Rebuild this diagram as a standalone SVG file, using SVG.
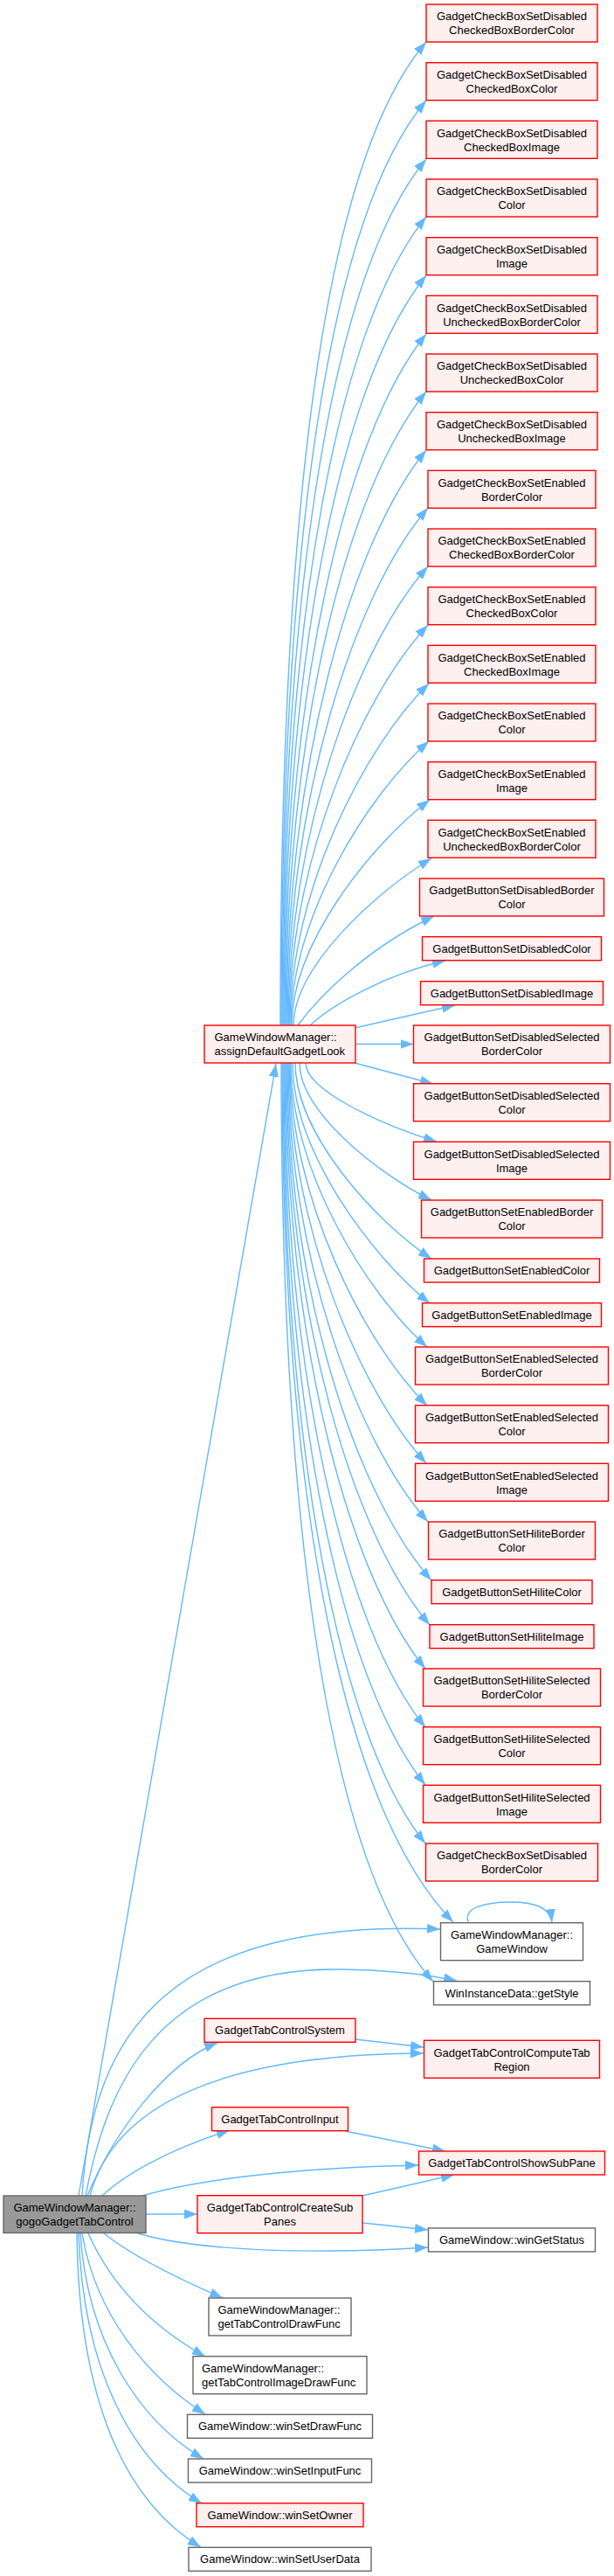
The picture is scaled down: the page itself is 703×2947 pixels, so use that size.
<svg xmlns="http://www.w3.org/2000/svg" width="703" height="2947" viewBox="0 0 703 2947">
<style>
.r{fill:#fff0f0;stroke:#ff0000;stroke-width:1.4}
.g{fill:#ffffff;stroke:#666666;stroke-width:1.4}
.s{fill:#999999;stroke:#666666;stroke-width:1.4}
text{font-family:"Liberation Sans",Arial,Helvetica,sans-serif;font-size:13px;fill:#000000;text-anchor:middle}
text.l{text-anchor:start}
.e path{fill:none;stroke:#63b8ff;stroke-width:1.4;marker-end:url(#a)}
</style>
<defs>
<marker id="a" markerUnits="userSpaceOnUse" markerWidth="15" markerHeight="11" viewBox="0 0 15 11" refX="15" refY="5.5" orient="auto"><path d="M0,0L15,5.5L0,11z" fill="#63b8ff"/></marker>
</defs>
<rect width="703" height="2947" fill="#ffffff"/>
<g id="edges" class="e">
<path d="M321,1173 C321,560 374,180 488,48"/>
<path d="M322,1173 C322,611 378,245 488,115"/>
<path d="M323,1173 C323,661 382,310 488,182"/>
<path d="M324,1173 C324,708 386,373 488,248"/>
<path d="M325,1173 C325,753 390,436 488,315"/>
<path d="M326,1173 C326,797 394,498 488,382"/>
<path d="M327,1173 C327,838 397,559 488,448"/>
<path d="M328,1173 C328,879 402,619 488,515"/>
<path d="M329,1173 C329,916 406,678 490,581"/>
<path d="M330,1173 C330,953 410,737 490,648"/>
<path d="M331,1173 C331,987 414,796 490,715"/>
<path d="M332,1173 C332,1020 418,853 491,782"/>
<path d="M333,1173 C333,1050 421,909 491,848"/>
<path d="M334,1173 C334,1079 426,965 492,915"/>
<path d="M336,1173 C336,1106 431,1020 494,982"/>
<path d="M341,1173 C365,1140 420,1085 497,1048"/>
<path d="M355,1173 C380,1150 440,1115 510,1099"/>
<path d="M406,1176 L521,1150"/>
<path d="M407,1194.5 L473.5,1194.5"/>
<path d="M406,1216 L496,1240"/>
<path d="M350,1216 C350,1248 440,1288 500,1306"/>
<path d="M343,1216 C343,1271 431,1342 494,1373"/>
<path d="M338,1216 C338,1296 428,1396 494,1440"/>
<path d="M335,1216 C335,1317 425,1437 492,1491"/>
<path d="M333,1216 C333,1339 420,1480 489,1541"/>
<path d="M332,1216 C332,1370 417,1537 489,1608"/>
<path d="M331,1216 C331,1402 413,1593 488,1674"/>
<path d="M330,1216 C330,1436 410,1652 490,1741"/>
<path d="M329,1216 C329,1473 408,1711 494,1808"/>
<path d="M328,1216 C328,1502 404,1756 492,1859"/>
<path d="M327,1216 C327,1531 399,1802 487,1909"/>
<path d="M326,1216 C326,1572 395,1863 487,1976"/>
<path d="M325,1216 C325,1615 391,1923 487,2042"/>
<path d="M324,1216 C324,1660 388,1986 487,2109"/>
<path d="M323,1216 C323,1722 394,2071 519,2199"/>
<path d="M322,1216 C322,1774 381,2139 496,2267"/>
<path d="M537,2200 C528,2183 555,2176 585,2176 C610,2176 630,2182 632,2199"/>
<path d="M90,2512 L316,1217"/>
<path d="M94,2512 C105,2320 200,2195 504,2207"/>
<path d="M98,2512 C120,2400 170,2250 391,2253 C450,2254 490,2259 523,2266"/>
<path d="M100,2512 C130,2440 190,2360 249,2337"/>
<path d="M103,2512 C130,2410 250,2350 485,2349"/>
<path d="M117,2512 C140,2490 190,2460 263,2437"/>
<path d="M163,2512 C220,2495 330,2480 479,2477"/>
<path d="M167,2533 L226,2533"/>
<path d="M158,2555 C200,2568 280,2576 380,2575 C420,2575 460,2573 490,2571"/>
<path d="M119,2555 C150,2580 200,2605 255,2629"/>
<path d="M101,2555 C130,2620 180,2665 235,2696"/>
<path d="M94,2555 C110,2650 170,2720 235,2762"/>
<path d="M92,2555 C100,2680 160,2770 233,2813"/>
<path d="M90,2555 C95,2710 150,2815 231,2864"/>
<path d="M88,2555 C90,2740 140,2860 230,2914"/>
<path d="M407,2333 L485,2342"/>
<path d="M395,2438 L510,2461"/>
<path d="M415,2512 L520,2488"/>
<path d="M415,2543 L490,2551"/>
</g>
<g id="n1"><rect class="r" x="488" y="5" width="196" height="43"/><text x="586" y="23.3">GadgetCheckBoxSetDisabled</text><text x="586" y="39.3">CheckedBoxBorderColor</text></g>
<g id="n2"><rect class="r" x="488" y="71.7" width="196" height="43"/><text x="586" y="90">GadgetCheckBoxSetDisabled</text><text x="586" y="106">CheckedBoxColor</text></g>
<g id="n3"><rect class="r" x="488" y="138.3" width="196" height="43"/><text x="586" y="156.6">GadgetCheckBoxSetDisabled</text><text x="586" y="172.6">CheckedBoxImage</text></g>
<g id="n4"><rect class="r" x="488" y="205" width="196" height="43"/><text x="586" y="223.3">GadgetCheckBoxSetDisabled</text><text x="586" y="239.3">Color</text></g>
<g id="n5"><rect class="r" x="488" y="271.7" width="196" height="43"/><text x="586" y="290">GadgetCheckBoxSetDisabled</text><text x="586" y="306">Image</text></g>
<g id="n6"><rect class="r" x="488" y="338.3" width="196" height="43"/><text x="586" y="356.6">GadgetCheckBoxSetDisabled</text><text x="586" y="372.6">UncheckedBoxBorderColor</text></g>
<g id="n7"><rect class="r" x="488" y="405" width="196" height="43"/><text x="586" y="423.3">GadgetCheckBoxSetDisabled</text><text x="586" y="439.3">UncheckedBoxColor</text></g>
<g id="n8"><rect class="r" x="488" y="471.7" width="196" height="43"/><text x="586" y="490">GadgetCheckBoxSetDisabled</text><text x="586" y="506">UncheckedBoxImage</text></g>
<g id="n9"><rect class="r" x="490" y="538.3" width="192" height="43"/><text x="586" y="556.6">GadgetCheckBoxSetEnabled</text><text x="586" y="572.6">BorderColor</text></g>
<g id="n10"><rect class="r" x="490" y="605" width="192" height="43"/><text x="586" y="623.3">GadgetCheckBoxSetEnabled</text><text x="586" y="639.3">CheckedBoxBorderColor</text></g>
<g id="n11"><rect class="r" x="490" y="671.7" width="192" height="43"/><text x="586" y="690">GadgetCheckBoxSetEnabled</text><text x="586" y="706">CheckedBoxColor</text></g>
<g id="n12"><rect class="r" x="490" y="738.3" width="192" height="43"/><text x="586" y="756.6">GadgetCheckBoxSetEnabled</text><text x="586" y="772.6">CheckedBoxImage</text></g>
<g id="n13"><rect class="r" x="490" y="805" width="192" height="43"/><text x="586" y="823.3">GadgetCheckBoxSetEnabled</text><text x="586" y="839.3">Color</text></g>
<g id="n14"><rect class="r" x="490" y="871.7" width="192" height="43"/><text x="586" y="890">GadgetCheckBoxSetEnabled</text><text x="586" y="906">Image</text></g>
<g id="n15"><rect class="r" x="490" y="938.3" width="192" height="43"/><text x="586" y="956.6">GadgetCheckBoxSetEnabled</text><text x="586" y="972.6">UncheckedBoxBorderColor</text></g>
<g id="n16"><rect class="r" x="480.5" y="1005" width="211" height="43"/><text x="586" y="1023.3">GadgetButtonSetDisabledBorder</text><text x="586" y="1039.3">Color</text></g>
<g id="n17"><rect class="r" x="483.5" y="1071.7" width="205" height="27"/><text x="586" y="1089.5">GadgetButtonSetDisabledColor</text></g>
<g id="n18"><rect class="r" x="481.5" y="1122.7" width="209" height="27"/><text x="586" y="1140.5">GadgetButtonSetDisabledImage</text></g>
<g id="n19"><rect class="r" x="473.5" y="1173" width="225" height="43"/><text x="586" y="1191.3">GadgetButtonSetDisabledSelected</text><text x="586" y="1207.3">BorderColor</text></g>
<g id="n20"><rect class="r" x="473.5" y="1239.7" width="225" height="43"/><text x="586" y="1258">GadgetButtonSetDisabledSelected</text><text x="586" y="1274">Color</text></g>
<g id="n21"><rect class="r" x="473.5" y="1306.3" width="225" height="43"/><text x="586" y="1324.6">GadgetButtonSetDisabledSelected</text><text x="586" y="1340.6">Image</text></g>
<g id="n22"><rect class="r" x="482.5" y="1373" width="207" height="43"/><text x="586" y="1391.3">GadgetButtonSetEnabledBorder</text><text x="586" y="1407.3">Color</text></g>
<g id="n23"><rect class="r" x="485.5" y="1440" width="201" height="27"/><text x="586" y="1457.8">GadgetButtonSetEnabledColor</text></g>
<g id="n24"><rect class="r" x="483.5" y="1490.7" width="205" height="27"/><text x="586" y="1508.5">GadgetButtonSetEnabledImage</text></g>
<g id="n25"><rect class="r" x="475.5" y="1541" width="221" height="43"/><text x="586" y="1559.3">GadgetButtonSetEnabledSelected</text><text x="586" y="1575.3">BorderColor</text></g>
<g id="n26"><rect class="r" x="475.5" y="1607.7" width="221" height="43"/><text x="586" y="1626">GadgetButtonSetEnabledSelected</text><text x="586" y="1642">Color</text></g>
<g id="n27"><rect class="r" x="475.5" y="1674.3" width="221" height="43"/><text x="586" y="1692.6">GadgetButtonSetEnabledSelected</text><text x="586" y="1708.6">Image</text></g>
<g id="n28"><rect class="r" x="490.5" y="1741" width="191" height="43"/><text x="586" y="1759.3">GadgetButtonSetHiliteBorder</text><text x="586" y="1775.3">Color</text></g>
<g id="n29"><rect class="r" x="494" y="1807.7" width="184" height="27"/><text x="586" y="1825.5">GadgetButtonSetHiliteColor</text></g>
<g id="n30"><rect class="r" x="492" y="1858.7" width="188" height="27"/><text x="586" y="1876.5">GadgetButtonSetHiliteImage</text></g>
<g id="n31"><rect class="r" x="484.5" y="1909" width="203" height="43"/><text x="586" y="1927.3">GadgetButtonSetHiliteSelected</text><text x="586" y="1943.3">BorderColor</text></g>
<g id="n32"><rect class="r" x="484.5" y="1975.7" width="203" height="43"/><text x="586" y="1994">GadgetButtonSetHiliteSelected</text><text x="586" y="2010">Color</text></g>
<g id="n33"><rect class="r" x="484.5" y="2042.3" width="203" height="43"/><text x="586" y="2060.6">GadgetButtonSetHiliteSelected</text><text x="586" y="2076.6">Image</text></g>
<g id="n34"><rect class="r" x="487.5" y="2109" width="197" height="43"/><text x="586" y="2127.3">GadgetCheckBoxSetDisabled</text><text x="586" y="2143.3">BorderColor</text></g>
<g id="n35"><rect class="g" x="504.5" y="2199.7" width="163" height="43"/><text x="586" y="2218">GameWindowManager::</text><text x="586" y="2234">GameWindow</text></g>
<g id="n36"><rect class="g" x="496.5" y="2266.7" width="179" height="27"/><text x="586" y="2284.5">WinInstanceData::getStyle</text></g>
<g id="n37"><rect class="r" x="485.5" y="2334.3" width="201" height="43"/><text x="586" y="2352.6">GadgetTabControlComputeTab</text><text x="586" y="2368.6">Region</text></g>
<g id="n38"><rect class="r" x="479.5" y="2461" width="213" height="27"/><text x="586" y="2478.8">GadgetTabControlShowSubPane</text></g>
<g id="n39"><rect class="g" x="490.5" y="2549" width="191" height="27"/><text x="586" y="2566.8">GameWindow::winGetStatus</text></g>
<g id="assign"><rect class="r" x="234" y="1173" width="173" height="43"/><text class="l" x="245.5" y="1191.3">GameWindowManager::</text><text class="l" x="245.5" y="1207.3">assignDefaultGadgetLook</text></g>
<g id="tabsystem"><rect class="r" x="234" y="2309.3" width="173" height="27"/><text x="320.5" y="2327.1">GadgetTabControlSystem</text></g>
<g id="tabinput"><rect class="r" x="242.5" y="2410.7" width="156" height="27"/><text x="320.5" y="2428.5">GadgetTabControlInput</text></g>
<g id="createsub"><rect class="r" x="226" y="2511.7" width="189" height="43"/><text x="320.5" y="2530">GadgetTabControlCreateSub</text><text x="320.5" y="2546">Panes</text></g>
<g id="drawfunc"><rect class="g" x="239" y="2629" width="163" height="43"/><text class="l" x="249.5" y="2647.3">GameWindowManager::</text><text class="l" x="249.5" y="2663.3">getTabControlDrawFunc</text></g>
<g id="imagedrawfunc"><rect class="g" x="221" y="2695.7" width="199" height="43"/><text class="l" x="231" y="2714">GameWindowManager::</text><text class="l" x="231" y="2730">getTabControlImageDrawFunc</text></g>
<g id="setdraw"><rect class="g" x="214.5" y="2762.3" width="212" height="27"/><text x="320.5" y="2780.1">GameWindow::winSetDrawFunc</text></g>
<g id="setinput"><rect class="g" x="215.5" y="2813" width="210" height="27"/><text x="320.5" y="2830.8">GameWindow::winSetInputFunc</text></g>
<g id="setowner"><rect class="r" x="225" y="2863.7" width="191" height="27"/><text x="320.5" y="2881.5">GameWindow::winSetOwner</text></g>
<g id="setuserdata"><rect class="g" x="216" y="2914.3" width="209" height="27"/><text x="320.5" y="2932.1">GameWindow::winSetUserData</text></g>
<g id="gogo"><rect class="s" x="4" y="2512" width="163" height="42.5"/><text x="85.5" y="2530.3">GameWindowManager::</text><text x="85.5" y="2546.3">gogoGadgetTabControl</text></g>
</svg>
